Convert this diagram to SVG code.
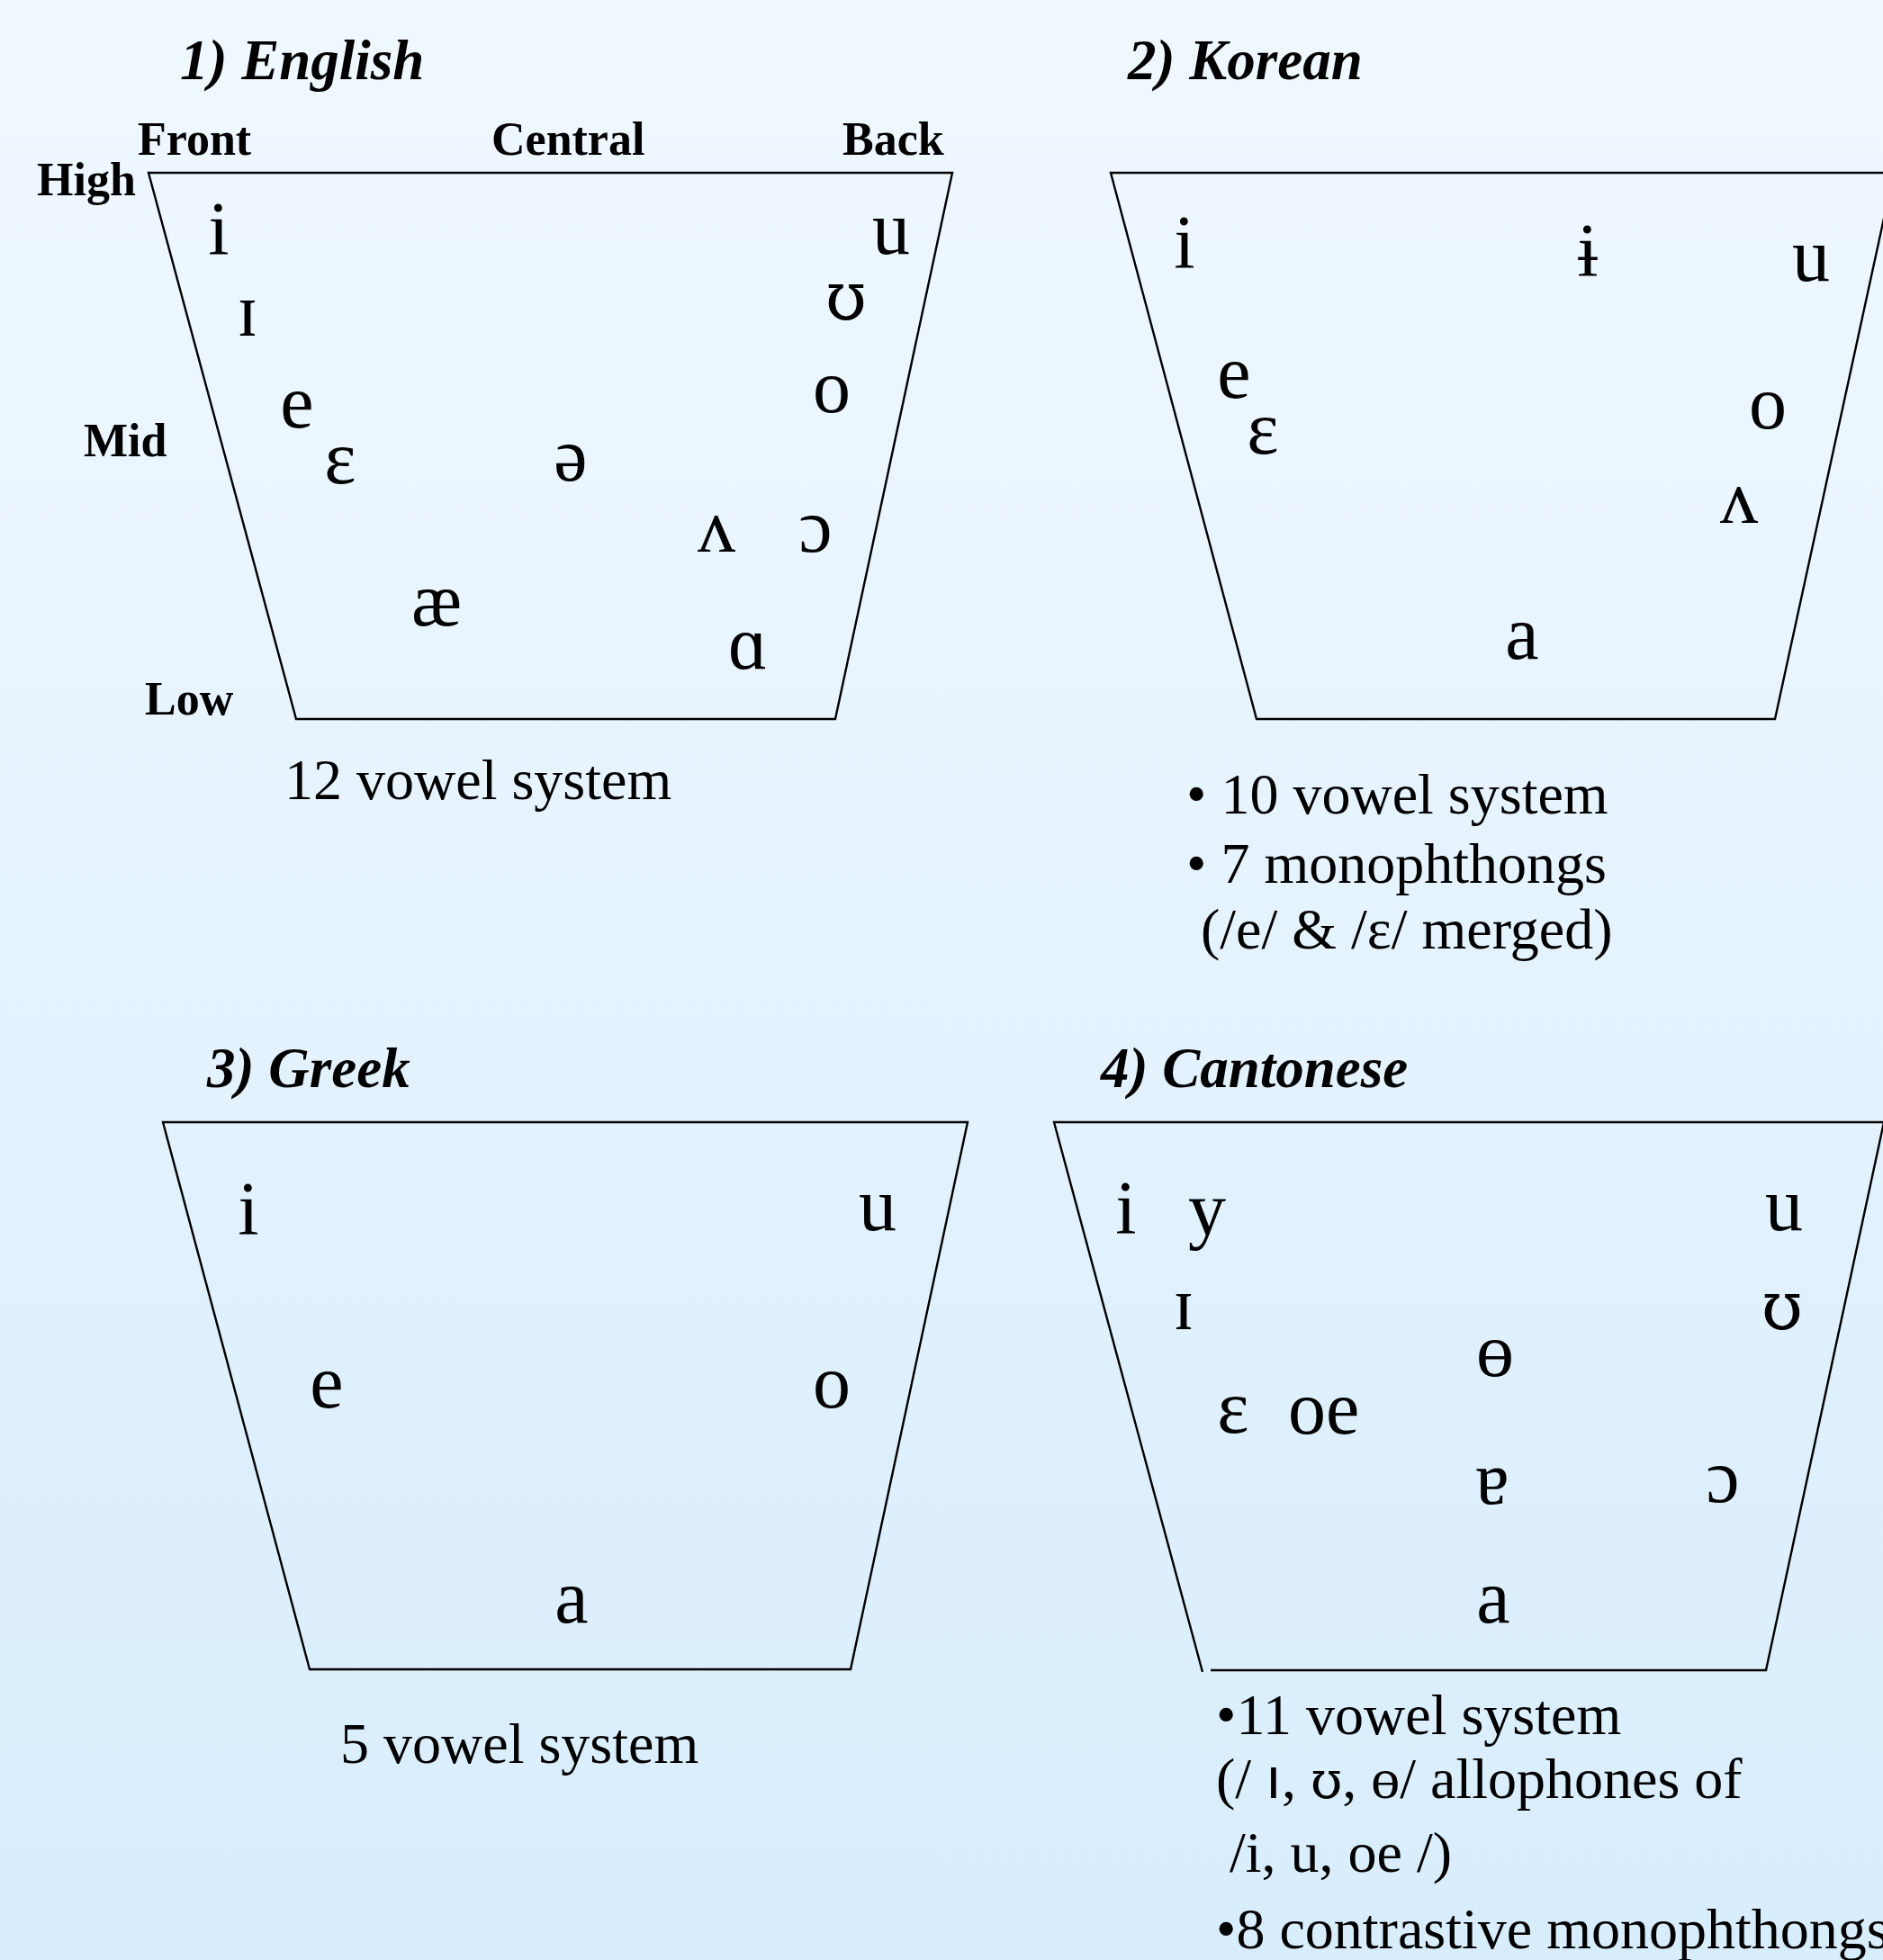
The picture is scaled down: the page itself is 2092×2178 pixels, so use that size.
<svg xmlns="http://www.w3.org/2000/svg" width="2092" height="2178" viewBox="0 0 2092 2178">
  <defs>
    <linearGradient id="bg" x1="0" y1="0" x2="0" y2="1">
      <stop offset="0" stop-color="#f0f8ff"/>
      <stop offset="1" stop-color="#d8edfc"/>
    </linearGradient>
    <style>
      text { font-family: "Liberation Serif", "Times New Roman", "DejaVu Serif", serif; fill: #000; }
      .ttl { font-size: 63px; font-weight: bold; font-style: italic; }
      .lbl { font-size: 52px; font-weight: bold; }
      .v { font-size: 84px; text-anchor: middle; }
      .vs { font-size: 84px; }
      .hs { font-family: "DejaVu Serif", serif; font-size: 74px; }
      .hs-sm { font-family: "DejaVu Serif", serif; font-size: 57px; }
      .note { font-size: 64px; }
      .frame { fill: none; stroke: #000; stroke-width: 2.4; stroke-linejoin: miter; }
    </style>
  </defs>

  <rect x="0" y="0" width="2092" height="2178" fill="url(#bg)"/>

  <!-- 1) English vowel chart -->
  <g id="chart-english">
    <text class="ttl" x="200" y="88">1) English</text>
    <text class="lbl" x="153" y="172">Front</text>
    <text class="lbl" x="546" y="172">Central</text>
    <text class="lbl" x="936" y="172">Back</text>
    <text class="lbl" x="41" y="217">High</text>
    <text class="lbl" x="93" y="507">Mid</text>
    <text class="lbl" x="161" y="794">Low</text>
    <polygon class="frame" points="165,192 1058,192 928,799 329,799"/>
    <text class="v" x="243" y="283">i</text>
    <text class="v" x="275" y="373">ɪ</text>
    <text class="v" x="330" y="475">e</text>
    <text class="v" x="378" y="537">ɛ</text>
    <text class="v" x="634" y="534">ə</text>
    <text class="v" x="485" y="695">æ</text>
    <text class="v" x="990" y="282">u</text>
    <text class="v hs" x="940" y="355">ʊ</text>
    <text class="v" x="924" y="458">o</text>
    <text class="v" x="796" y="613">ʌ</text>
    <text class="v" x="906" y="613">ɔ</text>
    <text class="v" x="831" y="743">ɑ</text>
    <text class="note" x="316" y="888">12 vowel system</text>
  </g>

  <!-- 2) Korean vowel chart -->
  <g id="chart-korean">
    <text class="ttl" x="1253" y="88">2) Korean</text>
    <polygon class="frame" points="1234,192 2104,192 1972,799 1396,799"/>
    <text class="v" x="1316" y="298">i</text>
    <text class="v" x="1764" y="307">ɨ</text>
    <text class="v" x="2012" y="312">u</text>
    <text class="v" x="1371" y="442">e</text>
    <text class="v" x="1403" y="504">ɛ</text>
    <text class="v" x="1964" y="476">o</text>
    <text class="v" x="1932" y="581">ʌ</text>
    <text class="v" x="1691" y="732">a</text>
    <text class="note" x="1318" y="904">• 10 vowel system</text>
    <text class="note" x="1318" y="981">• 7 monophthongs</text>
    <text class="note" x="1334" y="1054">(/e/ &amp; /ɛ/ merged)</text>
  </g>

  <!-- 3) Greek vowel chart -->
  <g id="chart-greek">
    <text class="ttl" x="230" y="1208">3) Greek</text>
    <polygon class="frame" points="181,1247 1075,1247 945,1855 344,1855"/>
    <text class="v" x="276" y="1372">i</text>
    <text class="v" x="975" y="1367">u</text>
    <text class="v" x="363" y="1564">e</text>
    <text class="v" x="924" y="1564">o</text>
    <text class="v" x="635" y="1803">a</text>
    <text class="note" x="378" y="1959">5 vowel system</text>
  </g>

  <!-- 4) Cantonese vowel chart (left edge stops short of the floor line) -->
  <g id="chart-cantonese">
    <text class="ttl" x="1223" y="1208">4) Cantonese</text>
    <polyline class="frame" points="1345,1856 1962,1856 2093,1247 1171,1247 1336,1858"/>
    <text class="v" x="1251" y="1371">i</text>
    <text class="v" x="1341" y="1372">y</text>
    <text class="v" x="1315" y="1477">ɪ</text>
    <text class="v" x="1661" y="1529">ɵ</text>
    <text class="v" x="1370" y="1592">ɛ</text>
    <text class="vs" x="1431" y="1593">oe</text>
    <text class="v" x="1658" y="1671">ɐ</text>
    <text class="v" x="1659" y="1803">a</text>
    <text class="v" x="1982" y="1367">u</text>
    <text class="v hs" x="1980" y="1477">ʊ</text>
    <text class="v" x="1914" y="1669">ɔ</text>
    <text class="note" x="1351" y="1927">•11 vowel system</text>
    <text class="note" x="1351" y="1998">(/ <tspan font-family="Liberation Sans, Arial, sans-serif">ı</tspan>, <tspan class="hs-sm">ʊ</tspan>, ɵ/ allophones of</text>
    <text class="note" x="1366" y="2080">/i, u, oe /)</text>
    <text class="note" x="1351" y="2165">•8 contrastive monophthongs</text>
  </g>
</svg>
